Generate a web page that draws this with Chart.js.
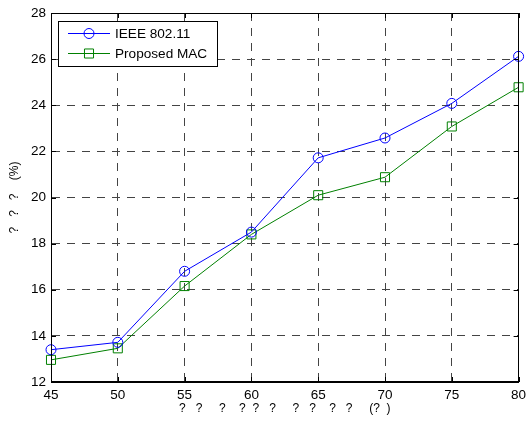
<!DOCTYPE html>
<html>
<head>
<meta charset="utf-8">
<script src="https://cdn.jsdelivr.net/npm/chart.js@4"></script>
<style>
  html, body { margin: 0; padding: 0; background: #fff; }
  #wrap { width: 526px; height: 421px; }
</style>
</head>
<body>
<div id="wrap"><canvas id="myChart" width="526" height="421"></canvas></div>
<script>
// values
var xValues = [45, 50, 55, 60, 65, 70, 75, 80];
var ieeeValues = [13.4, 13.72, 16.8, 18.5, 21.72, 22.58, 24.08, 26.12];
var proposedValues = [12.96, 13.46, 16.16, 18.4, 20.1, 20.88, 23.08, 24.78];
var seriesNames = ["IEEE 802.11", "Proposed MAC"];
var xTitle = "?   ?     ?    ?  ?   ?     ?   ?    ?   ?     (?  )";
var yTitle = "?   ?   ?    (%)";

var fontFamily = "'Liberation Sans', Arial, Helvetica, sans-serif";

function toPoints(xs, ys) {
  var pts = [];
  for (var i in xs) {
    pts.push({x: xs[i], y: ys[i]});
  }
  return pts;
}

// black box around the plot + MATLAB style legend in the upper left
var boxAndLegend = {
  id: 'boxAndLegend',
  afterDraw: function(chart) {
    var ctx = chart.ctx;
    var a = chart.chartArea;
    ctx.save();
    ctx.strokeStyle = '#000';
    ctx.lineWidth = 1;
    ctx.setLineDash([]);
    ctx.strokeRect(Math.round(a.left) + 0.5, Math.round(a.top) + 0.5,
                   Math.round(a.right - a.left) - 1, Math.round(a.bottom - a.top) - 1);

    // small inward ticks like MATLAB
    var xs = chart.scales.x, ys = chart.scales.y;
    ctx.beginPath();
    xs.ticks.forEach(function(t) {
      var px = Math.round(xs.getPixelForValue(t.value)) + 0.5;
      ctx.moveTo(px, a.bottom); ctx.lineTo(px, a.bottom - 5);
      ctx.moveTo(px, a.top); ctx.lineTo(px, a.top + 5);
    });
    ys.ticks.forEach(function(t) {
      var py = Math.round(ys.getPixelForValue(t.value)) + 0.5;
      ctx.moveTo(a.left, py); ctx.lineTo(a.left + 5, py);
      ctx.moveTo(a.right, py); ctx.lineTo(a.right - 5, py);
    });
    ctx.stroke();

    // legend
    var lx = 58, ly = 21, lw = 159, lh = 45;
    ctx.fillStyle = '#fff';
    ctx.fillRect(lx, ly, lw, lh);
    ctx.strokeRect(lx + 0.5, ly + 0.5, lw, lh);
    ctx.font = '13.6px ' + fontFamily;
    ctx.textBaseline = 'middle';
    chart.data.datasets.forEach(function(ds, i) {
      var rowY = ly + 12.5 + i * 20;
      ctx.strokeStyle = ds.borderColor;
      ctx.lineWidth = 1;
      ctx.beginPath();
      ctx.moveTo(lx + 10, rowY); ctx.lineTo(lx + 52, rowY);
      ctx.stroke();
      ctx.fillStyle = 'rgba(0,0,0,0)';
      Chart.helpers.drawPoint(ctx, {
        pointStyle: ds.pointStyle, radius: ds.pointRadius, borderWidth: 1
      }, lx + 31, rowY);
      ctx.fillStyle = '#000';
      ctx.fillText(ds.label, lx + 57, rowY + 1);
    });
    ctx.restore();
  }
};

var chartdata = {
  datasets: [
    {
      label: seriesNames[0],
      data: toPoints(xValues, ieeeValues),
      borderColor: "#0000ff",
      backgroundColor: "rgba(0,0,0,0)",
      pointBackgroundColor: "rgba(0,0,0,0)",
      pointBorderColor: "#0000ff",
      pointStyle: 'circle',
      pointRadius: 5,
      pointBorderWidth: 1,
      borderWidth: 1,
      fill: false,
      tension: 0,
      clip: false
    },
    {
      label: seriesNames[1],
      data: toPoints(xValues, proposedValues),
      borderColor: "#008000",
      backgroundColor: "rgba(0,0,0,0)",
      pointBackgroundColor: "rgba(0,0,0,0)",
      pointBorderColor: "#008000",
      pointStyle: 'rect',
      pointRadius: 6.4,
      pointBorderWidth: 1,
      borderWidth: 1,
      fill: false,
      tension: 0,
      clip: false
    }
  ]
};

var x = document.getElementById("myChart");

var LineGraph = new Chart(x, {
  type: 'line',
  data: chartdata,
  plugins: [boxAndLegend],
  options: {
    responsive: false,
    animation: false,
    events: [],
    layout: { padding: { top: 13, right: 6, left: 0, bottom: 0 } },
    plugins: {
      legend: { display: false },
      tooltip: { enabled: false }
    },
    scales: {
      x: {
        type: 'linear',
        min: 45,
        max: 80,
        ticks: {
          stepSize: 5,
          color: '#000',
          padding: 5,
          font: { size: 13.5, family: fontFamily }
        },
        grid: {
          color: '#444',
          lineWidth: 1,
          drawTicks: false
        },
        border: { display: true, color: '#000', dash: [8, 7] },
        title: {
          display: true,
          text: xTitle,
          color: '#000',
          padding: { top: 0, bottom: 5 },
          font: { size: 12, family: fontFamily }
        },
        afterFit: function(scale) {
          scale.height = 39;
          scale.paddingLeft = 0;
          scale.paddingRight = 0;
        }
      },
      y: {
        min: 12,
        max: 28,
        ticks: {
          stepSize: 2,
          color: '#000',
          padding: 5,
          font: { size: 13.5, family: fontFamily }
        },
        grid: {
          color: '#444',
          lineWidth: 1,
          drawTicks: false
        },
        border: { display: true, color: '#000', dash: [8, 7] },
        title: {
          display: true,
          text: yTitle,
          color: '#000',
          padding: { top: 7, bottom: 0 },
          font: { size: 12, family: fontFamily }
        },
        afterFit: function(scale) {
          scale.width = 51;
          scale.paddingTop = 0;
          scale.paddingBottom = 0;
        }
      }
    }
  }
});
</script>
</body>
</html>
